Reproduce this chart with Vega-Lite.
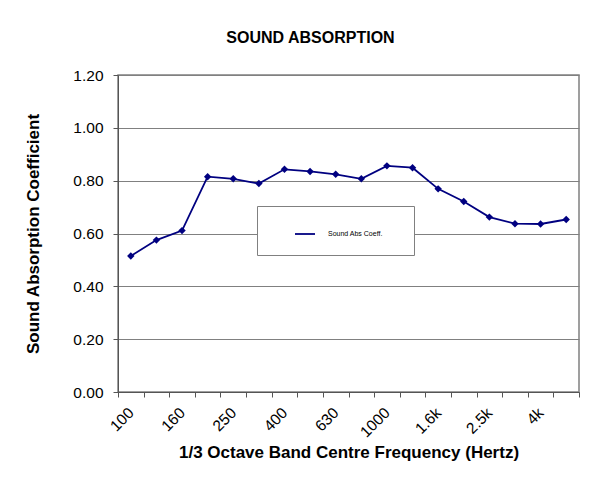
{
  "$schema": "https://vega.github.io/schema/vega-lite/v6.json",
  "autosize": "none",
  "width": 461,
  "height": 317,
  "padding": {"left": 118, "top": 75, "right": 24, "bottom": 91},
  "background": "white",
  "config": {
    "font": "Liberation Sans",
    "view": {"stroke": "#808080", "strokeWidth": 1.5}
  },
  "title": {
    "text": "SOUND ABSORPTION",
    "fontSize": 16,
    "fontWeight": "bold",
    "font": "Liberation Sans",
    "color": "#000000",
    "anchor": "middle",
    "dx": -38,
    "offset": 22
  },
  "data": {
    "values": [
      {"freq": "100", "coeff": 0.515, "series": "Sound Abs Coeff."},
      {"freq": "125", "coeff": 0.575, "series": "Sound Abs Coeff."},
      {"freq": "160", "coeff": 0.611, "series": "Sound Abs Coeff."},
      {"freq": "200", "coeff": 0.815, "series": "Sound Abs Coeff."},
      {"freq": "250", "coeff": 0.807, "series": "Sound Abs Coeff."},
      {"freq": "315", "coeff": 0.789, "series": "Sound Abs Coeff."},
      {"freq": "400", "coeff": 0.843, "series": "Sound Abs Coeff."},
      {"freq": "500", "coeff": 0.835, "series": "Sound Abs Coeff."},
      {"freq": "630", "coeff": 0.824, "series": "Sound Abs Coeff."},
      {"freq": "800", "coeff": 0.807, "series": "Sound Abs Coeff."},
      {"freq": "1000", "coeff": 0.856, "series": "Sound Abs Coeff."},
      {"freq": "1250", "coeff": 0.849, "series": "Sound Abs Coeff."},
      {"freq": "1.6k", "coeff": 0.769, "series": "Sound Abs Coeff."},
      {"freq": "2k", "coeff": 0.721, "series": "Sound Abs Coeff."},
      {"freq": "2.5k", "coeff": 0.662, "series": "Sound Abs Coeff."},
      {"freq": "3.15k", "coeff": 0.637, "series": "Sound Abs Coeff."},
      {"freq": "4k", "coeff": 0.636, "series": "Sound Abs Coeff."},
      {"freq": "5k", "coeff": 0.653, "series": "Sound Abs Coeff."}
    ]
  },
  "mark": {
    "type": "line",
    "strokeWidth": 1.8,
    "point": {"shape": "diamond", "filled": true, "size": 55, "color": "#000080"}
  },
  "encoding": {
    "x": {
      "field": "freq",
      "type": "ordinal",
      "sort": null,
      "scale": {"type": "band", "paddingInner": 0, "paddingOuter": 0},
      "axis": {
        "title": "1/3 Octave Band Centre Frequency (Hertz)",
        "titleFontSize": 17,
        "titleFontWeight": "bold",
        "titleColor": "#000000",
        "titlePadding": 4,
        "labelAngle": -45,
        "labelFontSize": 15.5,
        "labelColor": "#000000",
        "labelExpr": "indexof(['100','160','250','400','630','1000','1.6k','2.5k','4k'], datum.value) >= 0 ? datum.label : ''",
        "tickBand": "extent",
        "tickSize": 5,
        "tickColor": "#555555",
        "domainColor": "#555555",
        "labelPadding": 8,
        "labelOffset": -5,
        "grid": false
      }
    },
    "y": {
      "field": "coeff",
      "type": "quantitative",
      "scale": {"domain": [0, 1.2]},
      "axis": {
        "title": "Sound Absorption Coefficient",
        "titleFontSize": 17,
        "titleFontWeight": "bold",
        "titleColor": "#000000",
        "titlePadding": 30,
        "values": [0, 0.2, 0.4, 0.6, 0.8, 1.0, 1.2],
        "format": ".2f",
        "labelFontSize": 15.5,
        "labelColor": "#000000",
        "labelPadding": 10,
        "tickSize": 5,
        "tickColor": "#555555",
        "domainColor": "#555555",
        "grid": true,
        "gridColor": "#808080",
        "gridWidth": 1
      }
    },
    "color": {
      "field": "series",
      "type": "nominal",
      "scale": {"range": ["#000080"]},
      "legend": {
        "title": null,
        "orient": "none",
        "legendX": 139,
        "legendY": 131,
        "padding": 17,
        "fillColor": "white",
        "strokeColor": "#808080",
        "symbolType": "stroke",
        "symbolSize": 400,
        "symbolStrokeWidth": 1.8,
        "symbolOffset": 20,
        "labelFontSize": 7,
        "labelColor": "#000000",
        "labelOffset": 12,
        "labelExpr": "datum.label + '\u00a0\u00a0\u00a0\u00a0\u00a0\u00a0\u00a0\u200b'"
      }
    }
  }
}
